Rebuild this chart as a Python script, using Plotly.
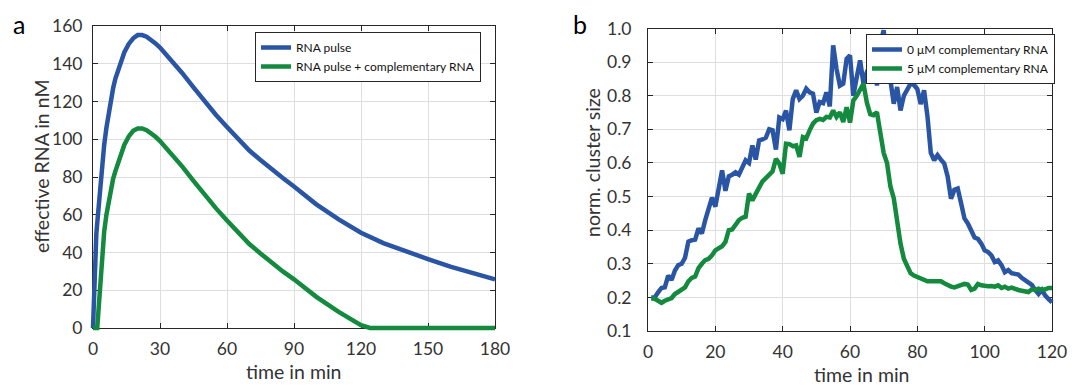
import plotly.graph_objects as go

# ---------------- data: panel a ----------------
t_a_blue = [0, 0.5, 1, 1.5, 2, 2.5, 3, 4, 5, 6, 7, 8, 9, 10, 12, 14, 16, 18, 20, 22, 24, 26, 28, 30,
            35, 40, 45, 50, 55, 60, 65, 70, 75, 80, 85, 90, 100, 110, 120, 130, 140, 150, 160, 170, 180]
rna_pulse = [0, 22, 40, 50, 57, 64, 70, 84, 97, 106, 114, 121, 127, 132, 140, 146, 150.5, 153.5, 155.2, 155.2,
             154.3, 152.8, 150.8, 148.6, 142, 135, 127.5, 120, 113, 106.5, 100, 94, 89, 84, 79.5, 75,
             65.5, 57.5, 50.5, 45, 40.5, 36.5, 32.5, 29, 25.8]

t_a_green = [0, 1, 1.9, 2.5, 3, 3.5, 4, 5, 6, 7, 8, 9, 10, 12, 14, 16, 18, 20, 22, 24, 26, 28, 30,
             35, 40, 45, 50, 55, 60, 65, 70, 75, 80, 85, 90, 100, 110, 115, 120, 124, 130, 140, 150, 160, 170, 180]
rna_pulse_compl = [0, 0, 0, 10, 20, 30, 40, 51, 60, 67, 73, 79, 83, 91, 97, 101.5, 104.5, 105.7, 105.7,
                   104.8, 103.3, 101.3, 99, 92.5, 85.5, 78, 70.5, 63.5, 57, 50.5, 44.5, 39.5, 34.5, 30,
                   25.8, 16.5, 8.5, 5, 1.5, 0, 0, 0, 0, 0, 0, 0]

# ---------------- data: panel b ----------------
t_b = list(range(1, 121))
cluster_0uM = [0.200, 0.200, 0.215, 0.228, 0.230, 0.265, 0.252, 0.280, 0.296, 0.300,
               0.318, 0.366, 0.370, 0.372, 0.405, 0.390, 0.430, 0.460, 0.497, 0.470,
               0.530, 0.578, 0.517, 0.560, 0.565, 0.572, 0.565, 0.590, 0.608, 0.600,
               0.652, 0.610, 0.667, 0.670, 0.675, 0.700, 0.697, 0.640, 0.735, 0.730,
               0.756, 0.697, 0.790, 0.816, 0.790, 0.800, 0.821, 0.810, 0.806, 0.750,
               0.781, 0.778, 0.810, 0.768, 0.950, 0.880, 0.830, 0.836, 0.910, 0.920,
               0.800, 0.855, 0.905, 0.836, 0.870, 0.890, 0.974, 0.830, 0.954, 0.995,
               0.880, 0.846, 0.776, 0.826, 0.756, 0.800, 0.820, 0.836, 0.832, 0.820,
               0.775, 0.816, 0.740, 0.630, 0.608, 0.623, 0.610, 0.598, 0.560, 0.494,
               0.520, 0.524, 0.480, 0.435, 0.420, 0.400, 0.378, 0.374, 0.360, 0.340,
               0.335, 0.325, 0.305, 0.310, 0.296, 0.275, 0.281, 0.272, 0.269, 0.268,
               0.258, 0.250, 0.245, 0.237, 0.222, 0.210, 0.222, 0.205, 0.195, 0.185]
cluster_5uM = [0.197, 0.196, 0.190, 0.184, 0.190, 0.195, 0.198, 0.210, 0.217, 0.220,
               0.230, 0.248, 0.258, 0.262, 0.287, 0.300, 0.311, 0.315, 0.325, 0.340,
               0.345, 0.352, 0.365, 0.400, 0.402, 0.415, 0.430, 0.437, 0.440, 0.509,
               0.488, 0.508, 0.528, 0.545, 0.555, 0.565, 0.575, 0.612, 0.598, 0.568,
               0.657, 0.656, 0.650, 0.652, 0.618, 0.677, 0.673, 0.697, 0.717, 0.727,
               0.731, 0.728, 0.737, 0.735, 0.756, 0.737, 0.751, 0.722, 0.766, 0.720,
               0.786, 0.800, 0.820, 0.836, 0.780, 0.745, 0.742, 0.751, 0.690, 0.630,
               0.600, 0.530, 0.495, 0.420, 0.360, 0.315, 0.290, 0.272, 0.265, 0.260,
               0.255, 0.250, 0.248, 0.248, 0.248, 0.251, 0.248, 0.242, 0.236, 0.232,
               0.230, 0.234, 0.237, 0.240, 0.238, 0.222, 0.226, 0.240, 0.236, 0.234,
               0.233, 0.234, 0.232, 0.236, 0.228, 0.232, 0.226, 0.229, 0.224, 0.222,
               0.220, 0.217, 0.216, 0.224, 0.222, 0.226, 0.222, 0.224, 0.228, 0.228]

xticks_a = [0, 30, 60, 90, 120, 150, 180]
yticks_a = [0, 20, 40, 60, 80, 100, 120, 140, 160]
xticks_b = [0, 20, 40, 60, 80, 100, 120]
yticks_b = [0.1, 0.2, 0.3, 0.4, 0.5, 0.6, 0.7, 0.8, 0.9, 1.0]

# ---------------- styling ----------------
WIN_W, WIN_H = 1084, 387
OFF = 8                      # default page (body) margin of the written html
W, H = WIN_W - OFF, WIN_H - OFF
BLUE = "#2a55a5"
GREEN = "#138a3d"
FONT = "Lato"
TXT = "#333333"
FRAME = "#262626"
GRID = "#dedede"
LW = 4.5


def fx(p):
    """window pixel x -> paper fraction"""
    return (p - OFF) / W


def fy(p):
    """window pixel y -> paper fraction"""
    return 1 - (p - OFF) / H


# plot-area boxes in window pixels (left, right, top, bottom)
A = dict(l=93, r=495, t=26, b=328, xr=(0, 180), yr=(0, 160))
B = dict(l=648, r=1052, t=28.5, b=331, xr=(0, 120), yr=(0.1, 1.0))
PAD = 4  # extra room so thick lines are not clipped at the frame


def frame_axes(box, tickvals_x, tickvals_y, anchor_x, anchor_y, ystand, yfmt=None):
    common = dict(showline=True, linecolor=FRAME, linewidth=1, mirror="ticks",
                  ticks="inside", ticklen=5, tickcolor=FRAME, tickwidth=1,
                  showgrid=True, gridcolor=GRID, gridwidth=1, zeroline=False,
                  automargin=False,
                  tickfont=dict(family=FONT, size=17.5, color=TXT), fixedrange=True)
    xa = dict(common, domain=[fx(box["l"]), fx(box["r"])], range=list(box["xr"]),
              tickvals=tickvals_x, anchor=anchor_y, ticklabelstandoff=5)
    ya = dict(common, domain=[fy(box["b"]), fy(box["t"])], range=list(box["yr"]),
              tickvals=tickvals_y, anchor=anchor_x, ticklabelstandoff=ystand)
    if yfmt:
        ya["tickformat"] = yfmt
    return xa, ya


def data_axes(box, anchor_x, anchor_y):
    x0, x1 = box["xr"]
    y0, y1 = box["yr"]
    dx = (x1 - x0) / (box["r"] - box["l"]) * PAD
    dy = (y1 - y0) / (box["b"] - box["t"]) * PAD
    xa = dict(visible=False, automargin=False,
              domain=[fx(box["l"] - PAD), fx(box["r"] + PAD)],
              range=[x0 - dx, x1 + dx], anchor=anchor_y, fixedrange=True)
    ya = dict(visible=False, automargin=False,
              domain=[fy(box["b"] + PAD), fy(box["t"] - PAD)],
              range=[y0 - dy, y1 + dy], anchor=anchor_x, fixedrange=True)
    return xa, ya


xa1, ya1 = frame_axes(A, xticks_a, yticks_a, "x", "y", 6)
xa2, ya2 = frame_axes(B, xticks_b, yticks_b, "x2", "y2", 12, ".1f")
xa3, ya3 = data_axes(A, "x3", "y3")
xa4, ya4 = data_axes(B, "x4", "y4")

fig = go.Figure()
# empty traces so that the framed (grid + ticks) subplots are created
for xa_id, ya_id in (("x", "y"), ("x2", "y2")):
    fig.add_trace(go.Scatter(x=[], y=[], mode="lines", xaxis=xa_id, yaxis=ya_id,
                             showlegend=False, hoverinfo="skip"))

fig.add_trace(go.Scatter(x=t_a_blue, y=rna_pulse, mode="lines", name="RNA pulse",
                         line=dict(color=BLUE, width=LW), xaxis="x3", yaxis="y3", legend="legend"))
fig.add_trace(go.Scatter(x=t_a_green, y=rna_pulse_compl, mode="lines",
                         name="RNA pulse + complementary RNA",
                         line=dict(color=GREEN, width=LW), xaxis="x3", yaxis="y3", legend="legend"))
fig.add_trace(go.Scatter(x=t_b, y=cluster_0uM, mode="lines", name="0 μM complementary RNA",
                         line=dict(color=BLUE, width=LW), xaxis="x4", yaxis="y4", legend="legend2"))
fig.add_trace(go.Scatter(x=t_b, y=cluster_5uM, mode="lines", name="5 μM complementary RNA",
                         line=dict(color=GREEN, width=LW), xaxis="x4", yaxis="y4", legend="legend2"))

leg_common = dict(bgcolor="white", bordercolor=FRAME, borderwidth=1,
                  font=dict(family=FONT, size=12, color="#111111"),
                  xanchor="left", yanchor="top", itemwidth=30, tracegroupgap=0)

fig.update_layout(
    width=W, height=H,
    margin=dict(l=0, r=0, t=0, b=0, autoexpand=False),
    paper_bgcolor="white", plot_bgcolor="rgba(0,0,0,0)",
    xaxis=xa1, yaxis=ya1, xaxis2=xa2, yaxis2=ya2,
    xaxis3=xa3, yaxis3=ya3, xaxis4=xa4, yaxis4=ya4,
    legend=dict(leg_common, x=fx(255), y=fy(32)),
    legend2=dict(leg_common, x=fx(866), y=fy(34)),
    showlegend=True,
)

ann_font = dict(family=FONT, size=19.5, color=TXT)
annotations = [
    dict(text="effective RNA in nM", x=fx(41), y=fy(166), textangle=-90, font=ann_font),
    dict(text="time in min", x=fx(294), y=fy(371), font=ann_font),
    dict(text="norm. cluster size", x=fx(593), y=fy(162), textangle=-90, font=ann_font),
    dict(text="time in min", x=fx(862), y=fy(374), font=ann_font),
    dict(text="a", x=fx(19), y=fy(24), font=dict(family=FONT, size=25, color="black")),
    dict(text="b", x=fx(580), y=fy(24), font=dict(family=FONT, size=25, color="black")),
]
for a in annotations:
    a.update(xref="paper", yref="paper", showarrow=False, xanchor="center", yanchor="middle")
fig.update_layout(annotations=annotations)

fig.write_html("out.html")
